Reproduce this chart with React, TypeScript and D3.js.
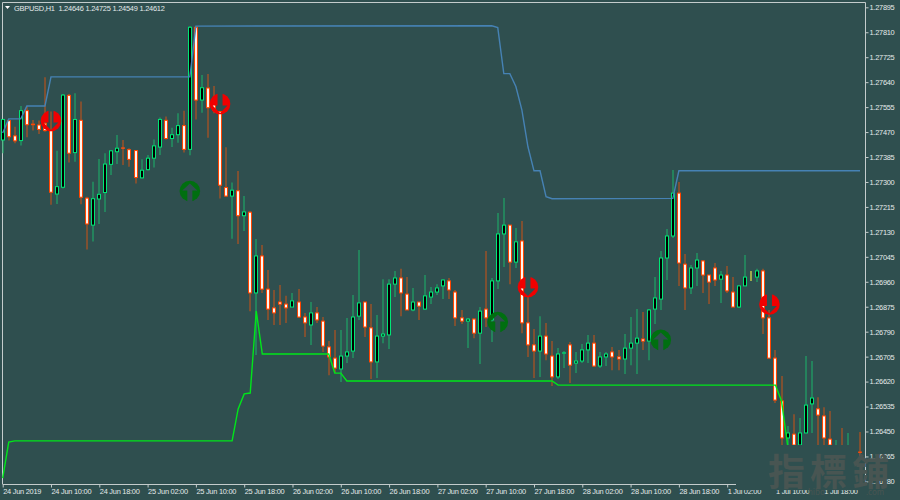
import React, { useEffect, useRef } from "react";
import * as d3 from "d3";

// prices are in points (1.27895 = 127895)
const timeLabels = [
  "24 Jun 2019", "24 Jun 10:00", "24 Jun 18:00", "25 Jun 02:00", "25 Jun 10:00", "25 Jun 18:00",
  "26 Jun 02:00", "26 Jun 10:00", "26 Jun 18:00", "27 Jun 02:00", "27 Jun 10:00", "27 Jun 18:00",
  "28 Jun 02:00", "28 Jun 10:00", "28 Jun 18:00", "1 Jul 02:00", "1 Jul 10:00", "1 Jul 18:00",
];
const timeLabelBars = [0, 8, 16, 24, 32, 40, 48, 56, 64, 72, 80, 88, 96, 104, 112, 120, 128, 136];
const priceTicks = [
  127895, 127810, 127725, 127640, 127555, 127470, 127385, 127300, 127215, 127130,
  127045, 126960, 126875, 126790, 126705, 126620, 126535, 126450, 126365, 126280,
];

const opens = [
  127443, 127509, 127457, 127441, 127543, 127497, 127494, 127500, 127475, 127259,
  127282, 127595, 127400, 127510, 127245, 127153, 127242, 127264, 127360, 127403,
  127416, 127410, 127407, 127314, 127342, 127381, 127419, 127510, 127448, 127461,
  127492, 127411, 127827, 127579, 127620, 127579, 127540, 127281, 127252, 127270,
  127185, 127197, 126922, 127048, 126935, 126871, 126891, 126884, 126874, 126891,
  126840, 126813, 126854, 126826, 126738, 126700, 126663, 126707, 126724, 126843,
  126891, 126803, 126687, 126775, 126779, 126952, 126973, 126918, 126864, 126891,
  126867, 126908, 126925, 126946, 126963, 126925, 126837, 126826, 126833, 126785,
  126867, 126830, 126963, 127123, 127153, 127027, 127099, 126820, 126745, 126724,
  126775, 126707, 126636, 126717, 126745, 126683, 126690, 126728, 126751, 126673,
  126704, 126721, 126704, 126697, 126734, 126751, 126765, 126758, 126867, 126901,
  127041, 127116, 127262, 127020, 126939, 127007, 127031, 126983, 127007, 126969,
  126983, 126925, 126874, 126946, 126980, 126976, 126997, 126837, 126700, 126554,
  126428, 126441, 126404, 126445, 126544, 126527, 126503, 126424, 126400, 126401,
  126400, 126400, 126380,
];
const highs = [
  127513, 127513, 127488, 127559, 127559, 127511, 127509, 127657, 127540, 127406,
  127600, 127600, 127602, 127574, 127250, 127301, 127378, 127398, 127409, 127460,
  127443, 127415, 127407, 127377, 127392, 127445, 127520, 127523, 127485, 127534,
  127543, 127831, 127829, 127664, 127668, 127627, 127540, 127418, 127298, 127337,
  127252, 127200, 127106, 127085, 127000, 126932, 126949, 126912, 126922, 126935,
  126854, 126891, 126874, 126840, 126758, 126796, 126796, 126837, 126915, 127068,
  126891, 126884, 126847, 126969, 126969, 126997, 127004, 126976, 126939, 126891,
  126983, 126942, 126952, 126969, 126973, 126932, 126864, 126837, 126837, 126874,
  127065, 126973, 127194, 127245, 127153, 127143, 127167, 126908, 126799, 126843,
  126820, 126758, 126734, 126724, 126755, 126721, 126748, 126779, 126779, 126721,
  126721, 126738, 126728, 126782, 126840, 126867, 126857, 126867, 126976, 127065,
  127140, 127341, 127300, 127055, 127017, 127058, 127034, 126983, 127024, 126997,
  127014, 126976, 126949, 127051, 126997, 127004, 127004, 126864, 126728, 126639,
  126469, 126509, 126496, 126707, 126690, 126567, 126533, 126520, 126421, 126462,
  126445, 126400, 126448,
];
const lows = [
  127398, 127441, 127432, 127424, 127452, 127475, 127463, 127471, 127222, 127225,
  127278, 127366, 127369, 127224, 127070, 127097, 127157, 127198, 127324, 127361,
  127358, 127352, 127295, 127312, 127339, 127349, 127392, 127445, 127419, 127434,
  127400, 127391, 127513, 127536, 127451, 127534, 127244, 127250, 127107, 127089,
  127133, 126860, 126711, 126922, 126830, 126813, 126813, 126820, 126874, 126837,
  126772, 126745, 126820, 126721, 126642, 126649, 126619, 126683, 126700, 126830,
  126772, 126629, 126632, 126751, 126731, 126908, 126843, 126864, 126860, 126830,
  126864, 126884, 126915, 126901, 126901, 126809, 126816, 126734, 126768, 126680,
  126806, 126755, 126935, 127010, 126952, 127007, 126785, 126704, 126632, 126636,
  126693, 126605, 126629, 126666, 126615, 126649, 126683, 126683, 126670, 126666,
  126673, 126659, 126659, 126646, 126676, 126646, 126728, 126693, 126816, 126864,
  126966, 127109, 126946, 126864, 126918, 126946, 126922, 126884, 126946, 126888,
  126922, 126874, 126871, 126946, 126963, 126959, 126782, 126700, 126547, 126404,
  126404, 126404, 126404, 126445, 126445, 126404, 126404, 126404, 126400, 126400,
  126400, 126400, 126363,
];
const closes = [
  127513, 127454, 127440, 127543, 127495, 127495, 127479, 127475, 127265, 127284,
  127596, 127398, 127513, 127248, 127157, 127243, 127258, 127361, 127406, 127415,
  127415, 127377, 127315, 127340, 127381, 127423, 127513, 127448, 127461, 127492,
  127411, 127827, 127579, 127621, 127553, 127545, 127289, 127252, 127272, 127185,
  127198, 126922, 127048, 126935, 126867, 126854, 126884, 126871, 126895, 126840,
  126820, 126854, 126830, 126741, 126704, 126666, 126707, 126721, 126840, 126888,
  126806, 126687, 126775, 126782, 126952, 126973, 126922, 126864, 126891, 126877,
  126912, 126925, 126939, 126966, 126932, 126837, 126826, 126833, 126785, 126860,
  126837, 126963, 127123, 127153, 127027, 127096, 126820, 126745, 126724, 126775,
  126714, 126636, 126714, 126718, 126676, 126690, 126728, 126751, 126673, 126704,
  126714, 126704, 126697, 126734, 126751, 126768, 126758, 126864, 126905, 127041,
  127116, 127262, 127024, 126939, 127007, 127034, 126983, 126959, 126966, 126983,
  126929, 126874, 126946, 126976, 126980, 126997, 126837, 126700, 126557, 126428,
  126445, 126404, 126445, 126540, 126564, 126506, 126428, 126404, 126401, 126400,
  126401, 126400, 126379,
];

// stepped channel lines, only the bars where they turn
const upperBars = [0, 1, 3, 4, 7, 8, 31, 32, 81, 82, 83, 84, 85, 86, 87, 88, 89, 90, 91, 111, 112, 142];
const upperPrices = [
  127467, 127515, 127515, 127559, 127559, 127658, 127658, 127831, 127832, 127826, 127669,
  127669, 127625, 127545, 127420, 127338, 127338, 127250, 127243, 127244, 127338, 127338,
];
const lowerBars = [0, 1, 2, 38, 39, 40, 41, 42, 43, 54, 55, 56, 57, 91, 92, 128, 129, 130];
const lowerPrices = [
  126291, 126414, 126418, 126418, 126527, 126578, 126581, 126860, 126714,
  126714, 126649, 126649, 126622, 126622, 126608, 126608, 126554, 126404,
];

const sellBars = [8, 36, 87, 127];
const sellPrices = [127508, 127566, 126942, 126883];
const buyBars = [31, 82, 109];
const buyPrices = [127269, 126823, 126762];

const BG = "#2f4f4f";
const FRAME = "#c4cccc";
const FONT = "'Liberation Sans', Arial, sans-serif";

export default function App() {
  const svgRef = useRef<SVGSVGElement>(null);

  useEffect(() => {
    if (!svgRef.current) return;
    const svg = d3.select(svgRef.current);
    svg.selectAll("*").remove();

    const x = d3.scaleLinear().domain([0, 142]).range([2.7, 860]);
    const y = d3.scaleLinear().domain([126280, 127895]).range([481.4, 7.3]);

    const defs = svg.append("defs");
    defs.append("mask").attr("id", "arrow-down")
      .attr("maskUnits", "userSpaceOnUse").attr("x", -12).attr("y", -12).attr("width", 24).attr("height", 24)
      .call((m) => {
        m.append("rect").attr("x", -12).attr("y", -12).attr("width", 24).attr("height", 24).attr("fill", "#fff");
        m.append("path").attr("d", "M-2.5,-11V1.5H-7.5L0,9L7.5,1.5H2.5V-11Z").attr("fill", "#000");
      });
    defs.append("mask").attr("id", "arrow-up")
      .attr("maskUnits", "userSpaceOnUse").attr("x", -12).attr("y", -12).attr("width", 24).attr("height", 24)
      .call((m) => {
        m.append("rect").attr("x", -12).attr("y", -12).attr("width", 24).attr("height", 24).attr("fill", "#fff");
        m.append("path").attr("d", "M-2.5,11V-0.5H-7.5L0,-7.5L7.5,-0.5H2.5V11Z").attr("fill", "#000");
      });

    // frame
    const frame = svg.append("g").attr("stroke", FRAME).attr("stroke-width", 1).attr("fill", "none");
    frame.append("path").attr("d", "M2.5,484V2.5H865.5V484");

    // axes
    const yAxis = d3.axisRight(y).tickValues(priceTicks).tickSize(3).tickPadding(1)
      .tickFormat((d) => ((d as number) / 100000).toFixed(5));
    const yG = svg.append("g").attr("transform", "translate(865.5,0)").call(yAxis);
    const xAxis = d3.axisBottom(x).tickValues(timeLabelBars).tickSize(3).tickPadding(1)
      .tickFormat((_, i) => timeLabels[i]);
    const xG = svg.append("g").attr("transform", "translate(0,484.5)").call(xAxis);
    [yG, xG].forEach((g) => {
      g.attr("font-family", FONT).attr("font-size", 7.4);
      g.select(".domain").remove();
      g.selectAll("line").attr("stroke", FRAME);
      g.selectAll("text").attr("fill", "#e4eaea").attr("letter-spacing", -0.25);
    });
    xG.selectAll("text").attr("text-anchor", "start").attr("dx", 0);
    svg.append("line").attr("x1", 2.5).attr("x2", 736).attr("y1", 484.5).attr("y2", 484.5).attr("stroke", FRAME);

    // the watermark box wipes the lower right corner
    svg.append("rect").attr("x", 740).attr("y", 446).attr("width", 125).attr("height", 44).attr("fill", BG);

    // candles
    const candles = svg.append("g").selectAll("g").data(d3.range(opens.length)).join("g");
    const tone = (i: number) => (closes[i] > opens[i] ? "up" : closes[i] < opens[i] ? "down" : "flat");
    const cx = (i: number) => Math.round(x(i));
    candles.append("line")
      .attr("x1", cx).attr("x2", cx)
      .attr("y1", (i) => y(highs[i])).attr("y2", (i) => y(lows[i]))
      .attr("stroke-width", 1.2)
      .attr("stroke", (i) => (tone(i) === "up" ? "#1fa567" : tone(i) === "down" ? "#b5521f" : "#e8e84a"));
    candles.filter((i) => tone(i) !== "flat").append("rect")
      .attr("x", (i) => cx(i) - 1.5).attr("width", 3)
      .attr("y", (i) => y(Math.max(opens[i], closes[i])))
      .attr("height", (i) => Math.abs(y(opens[i]) - y(closes[i])))
      .attr("fill", (i) => (tone(i) === "up" ? "#000" : "#fff5ee"))
      .attr("stroke", (i) => (tone(i) === "up" ? "#00e676" : "#ff4500"))
      .attr("stroke-width", 1);

    // everything under this level was wiped in the chart
    svg.append("rect").attr("x", 3).attr("y", y(126404)).attr("width", 854).attr("height", 484 - y(126404)).attr("fill", BG);

    // channel lines
    const upper = d3.line<number>().x((b) => x(b)).y((_, i) => y(upperPrices[i]));
    const lower = d3.line<number>().x((b) => x(b)).y((_, i) => y(lowerPrices[i]));
    svg.append("path").attr("d", upper(upperBars)).attr("fill", "none").attr("stroke", "#4682b4").attr("stroke-width", 1.4);
    svg.append("path").attr("d", lower(lowerBars)).attr("fill", "none").attr("stroke", "#00e61a").attr("stroke-width", 1.4);

    // signal arrows
    sellBars.forEach((b, i) => {
      svg.append("g").attr("transform", `translate(${x(b)},${y(sellPrices[i])})`)
        .append("circle").attr("r", 10.3).attr("fill", "#f00000").attr("mask", "url(#arrow-down)");
    });
    buyBars.forEach((b, i) => {
      svg.append("g").attr("transform", `translate(${x(b)},${y(buyPrices[i])})`)
        .append("circle").attr("r", 10.3).attr("fill", "#006f10").attr("mask", "url(#arrow-up)");
    });

    // header
    svg.append("path").attr("d", "M5,6H10L7.5,9Z").attr("fill", "#fff");
    svg.append("text").attr("x", 14).attr("y", 10.5)
      .attr("font-family", FONT).attr("font-size", 7.4).attr("letter-spacing", -0.22).attr("fill", "#e4eaea")
      .style("white-space", "pre")
      .text("GBPUSD,H1  1.24646 1.24725 1.24549 1.24612");

    // watermark
    const mark = svg.append("g").attr("fill", "#485552").attr("font-family", "'Noto Sans CJK TC'");
    mark.append("text").attr("x", 768).attr("y", 486).attr("font-size", 37).attr("font-weight", 700)
      .attr("letter-spacing", 5).text("指標鋪");
    mark.append("text").attr("x", 808).attr("y", 495).attr("font-size", 8).text("hibo");
    mark.append("text").attr("x", 866).attr("y", 495).attr("font-size", 8).text(".com");
  }, []);

  return (
    <svg
      ref={svgRef}
      width={900}
      height={500}
      style={{ position: "absolute", left: 0, top: 0, background: BG, display: "block" }}
    />
  );
}
